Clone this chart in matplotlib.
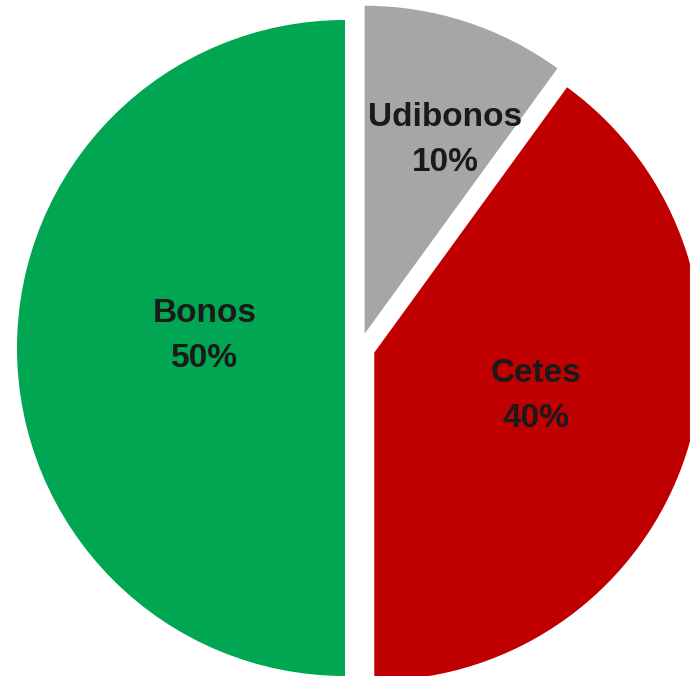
import numpy as np
import matplotlib
matplotlib.use('Agg')
import matplotlib.pyplot as plt

plt.rcParams['font.family'] = ['Liberation Sans', 'DejaVu Sans']

nombres = ['Udibonos', 'Cetes', 'Bonos']
valores = [10, 40, 50]
colores = ['#A6A6A6', '#C00000', '#00A651']

fig = plt.figure(figsize=(6.9, 6.76), dpi=100)
ax = fig.add_axes([0, 0, 1, 1])

# pie in pixel-like data units
radio = 328
centro = (360, 328)
wedges, _ = ax.pie(valores, colors=colores, startangle=90, counterclock=False,
                   radius=radio, center=centro, explode=[15, 15, 15],
                   wedgeprops=dict(linewidth=0))

# label distance (fraction of radius) and angle tweak per slice
dist_lab = [0.64, 0.51, 0.43]
ajuste = [-4.5, 3, -5]
for w, n, v, d, a in zip(wedges, nombres, valores, dist_lab, ajuste):
    ang = np.deg2rad((w.theta1 + w.theta2) / 2 + a)
    cx, cy = w.center
    ax.text(cx + d * radio * np.cos(ang), cy + d * radio * np.sin(ang),
            '%s\n%d%%' % (n, v), ha='center', va='center', fontsize=24,
            fontweight='bold', color='#1a1a1a', linespacing=1.6)

ax.set_xlim(0, 690)
ax.set_ylim(0, 676)
ax.set_aspect('equal')
ax.axis('off')
plt.savefig('out.png', dpi=100)
